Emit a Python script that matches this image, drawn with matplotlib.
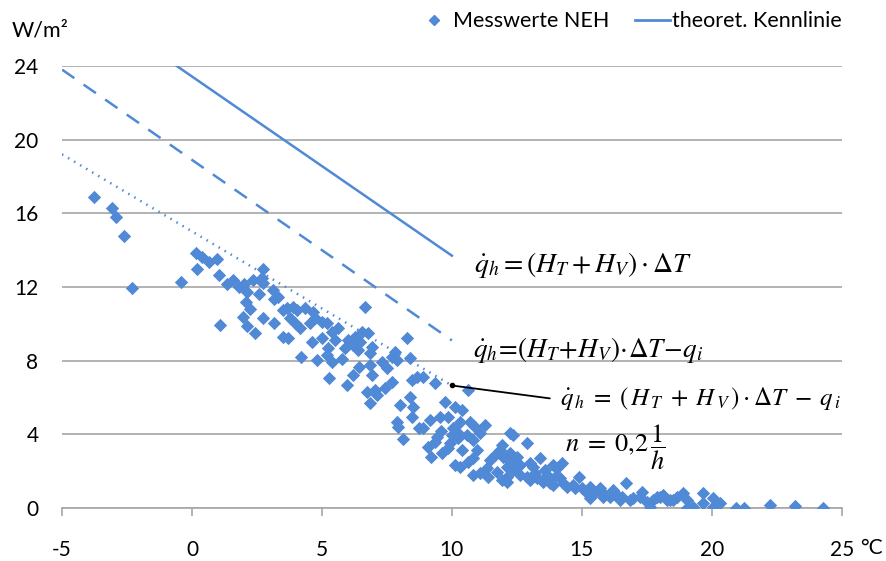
import matplotlib
matplotlib.use("Agg")
import matplotlib.pyplot as plt
from matplotlib.lines import Line2D

plt.rcParams['font.family'] = ['Lato', 'DejaVu Sans']
plt.rcParams['mathtext.fontset'] = 'stix'

# outside temperature (deg C) and specific heating load (W/m2) of the measured points
temp = [
    -3.77, -3.08, -2.92, -2.62, -2.31, -0.42, 0.15, 0.38, 0.19, 0.65, 0.96, 1.04, 1.08,
    1.35, 1.58, 1.81, 2.00, 2.12, 2.08, 2.23, 1.96, 2.12, 2.42, 2.58, 2.35, 2.62, 2.73,
    2.69, 2.73, 2.73, 3.12, 3.15, 3.15, 3.31, 3.50, 3.88, 4.04, 4.35, 4.65, 3.77, 3.96,
    4.15, 4.54, 4.73, 5.00, 5.19, 3.69, 4.62, 5.00, 5.38, 5.62, 5.50, 5.23, 5.19, 5.38,
    5.77, 4.81, 4.19, 5.88, 6.00, 6.27, 6.19, 6.46, 6.38, 6.54, 6.77, 6.92, 6.85, 6.42,
    6.19, 5.96, 5.27, 6.65, 6.85, 6.92, 6.73, 7.04, 7.12, 6.85, 7.42, 7.31, 7.50, 7.69,
    7.81, 7.88, 8.27, 8.38, 7.69, 8.46, 8.65, 8.88, 9.35, 8.38, 8.00, 8.50, 8.46, 7.88,
    7.92, 8.73, 8.12, 9.15, 9.54, 9.85, 9.73, 10.12, 10.38, 10.62, 10.31, 10.69, 10.88,
    11.27, 10.04, 10.00, 10.23, 10.58, 10.81, 11.08, 9.42, 9.35, 9.08, 9.62, 9.85, 9.92,
    9.19, 10.12, 10.31, 10.38, 10.62, 10.81, 10.96, 10.81, 11.08, 11.35, 11.38, 11.73,
    11.85, 11.96, 12.15, 12.12, 11.92, 12.12, 12.35, 12.35, 11.92, 12.88, 12.23, 12.50,
    13.00, 13.38, 13.12, 12.12, 12.62, 12.88, 13.27, 13.50, 13.65, 13.88, 14.04, 14.23,
    13.96, 14.27, 14.42, 14.88, 14.65, 15.00, 15.31, 15.50, 15.69, 15.81, 16.08, 16.35,
    16.54, 16.69, 16.19, 16.96, 17.23, 17.50, 17.73, 18.00, 18.27, 18.50, 12.35, 13.77,
    15.19, 12.23, 13.00, 13.88, 14.73, 15.31, 15.81, 16.46, 16.85, 17.31, 17.62, 17.88,
    18.12, 18.38, 18.65, 18.88, 19.04, 19.27, 19.65, 19.65, 20.04, 20.31, 20.04, 20.92,
    21.23, 22.23, 23.19, 24.27, 19.04, 11.46, 11.65, 12.62, 13.19, 14.15, 13.58, 3.65,
    3.50, 9.58, 10.19, 8.88,
]
load = [
    16.88, 16.29, 15.80, 14.77, 11.94, 12.27, 13.84, 13.63, 12.97, 13.36, 13.52, 12.65, 9.93,
    12.16, 12.38, 12.00, 12.16, 11.73, 11.18, 10.80, 10.37, 9.88, 9.50, 11.62, 12.38, 12.38, 12.97,
    12.49, 12.21, 10.31, 11.83, 11.35, 10.04, 11.45, 10.75, 10.91, 10.75, 10.86, 10.64, 10.31, 10.04,
    9.77, 10.04, 10.31, 10.10, 10.04, 9.23, 9.01, 9.23, 9.55, 9.77, 9.12, 8.69, 8.31, 7.93,
    8.09, 8.03, 8.20, 8.69, 9.12, 9.28, 8.85, 9.01, 8.58, 9.55, 9.50, 8.74, 8.41, 7.65,
    7.22, 6.68, 7.06, 10.91, 7.76, 7.22, 6.30, 6.41, 6.13, 5.70, 6.51, 7.93, 7.60, 8.20,
    8.47, 8.03, 9.23, 8.14, 6.84, 6.95, 7.11, 7.11, 6.79, 6.03, 5.59, 5.48, 4.94, 4.67,
    4.40, 4.34, 3.75, 4.78, 4.94, 4.94, 5.75, 5.48, 5.32, 6.41, 4.67, 4.67, 4.40,
    4.51, 4.34, 3.96, 3.80, 3.96, 3.69, 4.07, 3.85, 3.58, 3.31, 2.99, 3.26, 3.53,
    2.77, 2.33, 2.23, 3.15, 2.50, 2.71, 3.15, 1.79, 1.90, 2.17, 1.68, 1.95,
    3.15, 2.77, 2.61, 2.23, 1.52, 1.41, 2.06, 3.96, 3.42, 3.53, 2.99, 2.77,
    2.44, 2.71, 2.23, 1.68, 1.79, 1.68, 1.63, 1.41, 1.79, 2.33, 2.17, 2.44,
    1.68, 1.36, 1.14, 1.68, 1.25, 1.09, 1.14, 0.87, 1.09, 0.81, 0.60, 0.71,
    0.60, 1.36, 0.98, 0.54, 0.60, 0.33, 0.43, 0.60, 0.43, 0.43, 2.61, 1.36,
    0.81, 4.07, 1.52, 1.25, 1.09, 0.54, 0.60, 0.43, 0.43, 0.87, 0.05, 0.60,
    0.71, 0.43, 0.60, 0.81, 0.43, 0.05, 0.81, 0.27, 0.54, 0.27, 0.05, 0.00,
    0.00, 0.16, 0.11, 0.00, 0.00, 2.61, 2.88, 2.33, 1.90, 1.63, 2.06, 10.86,
    9.28, 4.20, 4.10, 4.35,
]

# theoretical characteristic lines
line_full_x = [-0.59, 10.0]
line_full_y = [24.0, 13.7]
line_gain_x = [-5.0, 10.0]
line_gain_y = [23.8, 9.1]
line_n02_x = [-5.0, 10.0]
line_n02_y = [19.2, 6.65]

x_ticks = [-5, 0, 5, 10, 15, 20, 25]
y_ticks = [0, 4, 8, 12, 16, 20, 24]

blue = '#5089d6'
grey = '#a6a6a6'

fig = plt.figure(figsize=(8.86, 5.61), dpi=100)
ax = fig.add_axes([0.070, 0.0945, 0.880, 0.788])

ax.scatter(temp, load, marker='D', s=46, color=blue, linewidths=0, zorder=3)
ax.plot(line_full_x, line_full_y, color=blue, lw=1.8, zorder=2)
ax.plot(line_gain_x, line_gain_y, color=blue, lw=1.8, dashes=(6, 4.5), zorder=2)
ax.plot(line_n02_x, line_n02_y, color=blue, lw=1.8, dashes=(0.6, 2.2), zorder=2)

ax.set_xlim(-5, 25)
ax.set_ylim(0, 24)
ax.set_xticks(x_ticks)
ax.set_yticks(y_ticks)
ax.grid(axis='y', color=grey, lw=1.2, zorder=0)
for s in ['top', 'right', 'left']:
    ax.spines[s].set_visible(False)
ax.spines['bottom'].set_color(grey)
ax.spines['bottom'].set_linewidth(1.2)
ax.tick_params(axis='x', direction='out', length=6, width=1.2, color=grey, pad=17, labelsize=15)
ax.tick_params(axis='y', length=0, pad=17, labelsize=15)
ax.set_xticklabels([str(v) for v in x_ticks])

fig.text(0.983, 0.024, '°C', fontsize=15, ha='center', va='center')
fig.text(0.013, 0.946, 'W/m²', fontsize=15.5, ha='left', va='center')

# formulas
ax.text(10.85, 13.2, r'$\dot{q}_h = (H_T + H_V)\cdot\Delta T$', fontsize=20, va='center')
ax.text(10.8, 8.55, r'$\dot{q}_h\!=\!(H_T\!+\!H_V)\!\cdot\!\Delta T\!-\!q_i$', fontsize=19.5, va='center')
ax.text(14.15, 5.95, r'$\dot{q}_{\,h}\;=\;(\,H_{\,T}\;+\;H_{\,V}\,)\cdot\Delta T\;-\;q_{\,i}$', fontsize=18, va='center')
ax.text(14.35, 3.3, r'$n\;=\;0{,}2\,\dfrac{1}{h}$', fontsize=19, va='center')
ax.annotate('', xy=(line_n02_x[-1], line_n02_y[-1]), xytext=(13.77, 5.95),
            arrowprops=dict(arrowstyle='-', color='black', lw=1.3, shrinkA=0, shrinkB=0))
ax.plot([line_n02_x[-1]], [line_n02_y[-1]], 'o', color='black', ms=3, zorder=4)

handles = [Line2D([], [], marker='D', ls='', color=blue, ms=5),
           Line2D([], [], color=blue, lw=2)]
leg = fig.legend(handles, ['Messwerte NEH', 'theoret. Kennlinie'], loc='center right',
                 bbox_to_anchor=(0.972, 0.962), ncol=2, frameon=False, fontsize=15.5,
                 handlelength=1.6, handletextpad=0.1, columnspacing=1.2)

fig.savefig('out.png', dpi=100)
